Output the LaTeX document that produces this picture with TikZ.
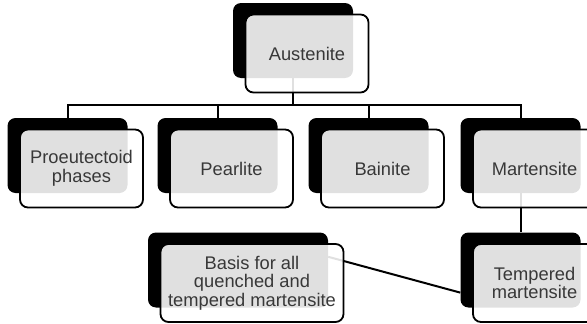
\documentclass[tikz,border=0pt]{standalone}
\usepackage{fontspec}
\setmainfont{Liberation Sans}
\usetikzlibrary{calc}

\definecolor{labelgray}{gray}{0.22}

\tikzset{
    backbox/.style={fill=black, rounded corners=8pt, inner sep=0pt,
        minimum width=120pt, minimum height=75pt},
    frontbox/.style={draw=black, line width=1.8pt, fill=white, fill opacity=0.88,
        text opacity=1, text=labelgray, rounded corners=8pt, inner sep=0pt,
        minimum width=123pt, minimum height=78pt, align=center,
        font=\fontsize{18.3}{18.5}\selectfont},
    link/.style={line width=2pt}
}

\begin{document}
\begin{tikzpicture}[x=1pt, y=-1pt]
    \clip (0,0) rectangle (587,324);

    % black boxes behind every step
    \node[backbox] (aus)   at (293,40.5)  {};
    \node[backbox] (proeu) at (67.5,155.5) {};
    \node[backbox] (pearl) at (217.5,155.5) {};
    \node[backbox] (bain)  at (368.5,155.5) {};
    \node[backbox] (mart)  at (520.5,155.5) {};
    \node[backbox, minimum width=180pt] (basis) at (238,270) {};
    \node[backbox] (temp)  at (520.5,270) {};

    % connecting lines
    \coordinate (bus) at (293,105);
    \draw[link] (aus) -- (bus);
    \draw[link] (proeu) |- (bus) -| (mart);
    \draw[link] (pearl) -- (pearl |- bus);
    \draw[link] (bain) -- (bain |- bus);
    \draw[link] (mart) -- (temp);
    \draw[link] ($(basis.east)!0.35!(basis.north east)$)
        -- ($(temp.west)!0.6!(temp.south west)$);

    % light front boxes with the labels
    \node[frontbox] (ausf)   at ($(aus)+(14,13)$)   {Austenite};
    \node[frontbox] (proeuf) at ($(proeu)+(14,13)$) {Proeutectoid\\phases};
    \node[frontbox] (pearlf) at ($(pearl)+(14,13)$) {Pearlite};
    \node[frontbox] (bainf)  at ($(bain)+(14,13)$)  {Bainite};
    \node[frontbox] (martf)  at ($(mart)+(14,13)$)  {Martensite};
    \node[frontbox, minimum width=183pt] (basisf) at ($(basis)+(14,13)$)
        {Basis for all\\quenched and\\tempered martensite};
    \node[frontbox] (tempf)  at ($(temp)+(14,13)$)  {Tempered\\martensite};
\end{tikzpicture}
\end{document}
